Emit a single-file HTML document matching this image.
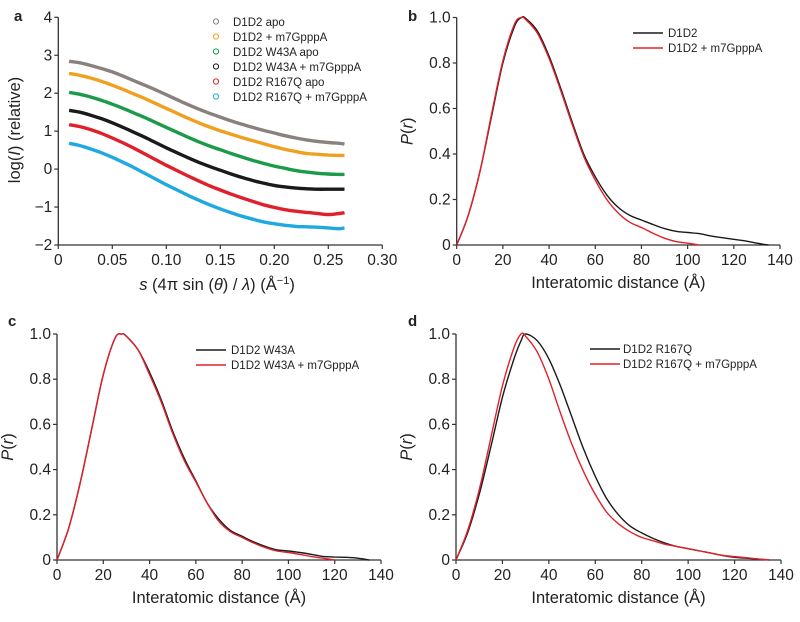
<!DOCTYPE html>
<html><head><meta charset="utf-8"><style>
body{margin:0;background:#fff;}
svg{display:block;font-family:"Liberation Sans",Arial,sans-serif;}
</style></head><body>
<svg id="fig" width="800" height="622" viewBox="0 0 800 622"></svg>
<script>
// Panel a data
const sVals=[0.01,0.02,0.03,0.04,0.05,0.06,0.07,0.08,0.09,0.10,0.11,0.12,0.13,0.14,0.15,0.16,0.17,0.18,0.19,0.20,0.21,0.22,0.23,0.24,0.25,0.26,0.265];
const greyApo=[2.84,2.80,2.73,2.65,2.56,2.45,2.33,2.21,2.09,1.96,1.83,1.70,1.58,1.47,1.37,1.27,1.18,1.10,1.02,0.95,0.88,0.82,0.77,0.73,0.70,0.68,0.66];
const orangeLig=[2.52,2.47,2.40,2.31,2.21,2.10,1.98,1.86,1.73,1.60,1.47,1.34,1.22,1.11,1.01,0.92,0.83,0.75,0.67,0.59,0.52,0.46,0.41,0.39,0.37,0.36,0.36];
const greenW43=[2.02,1.97,1.90,1.81,1.71,1.60,1.48,1.36,1.23,1.10,0.97,0.84,0.72,0.61,0.51,0.41,0.32,0.23,0.15,0.08,0.02,-0.04,-0.08,-0.11,-0.13,-0.14,-0.14];
const blackW43=[1.55,1.50,1.42,1.33,1.22,1.10,0.97,0.84,0.70,0.56,0.43,0.30,0.18,0.07,-0.03,-0.13,-0.22,-0.30,-0.37,-0.43,-0.47,-0.50,-0.52,-0.53,-0.53,-0.53,-0.53];
const redR167=[1.17,1.12,1.04,0.94,0.82,0.69,0.55,0.40,0.25,0.10,-0.04,-0.18,-0.31,-0.44,-0.55,-0.66,-0.76,-0.85,-0.94,-1.01,-1.07,-1.11,-1.14,-1.17,-1.20,-1.17,-1.15];
const blueR167=[0.68,0.62,0.53,0.43,0.31,0.18,0.04,-0.11,-0.26,-0.41,-0.55,-0.69,-0.82,-0.94,-1.05,-1.15,-1.24,-1.32,-1.39,-1.44,-1.48,-1.51,-1.52,-1.53,-1.55,-1.57,-1.55];
const seriesANames=["D1D2 apo","D1D2 + m7GpppA","D1D2 W43A apo","D1D2 W43A + m7GpppA","D1D2 R167Q apo","D1D2 R167Q + m7GpppA"];
const seriesAColors=["#8a817e","#f0a020","#1a9a4a","#1a1a1a","#e0202a","#20a8e0"];
const seriesAData=[greyApo,orangeLig,greenW43,blackW43,redR167,blueR167];
const aYTicks=[-2,-1,0,1,2,3,4];
const aXTicks=[0,0.05,0.10,0.15,0.20,0.25,0.30];
const aXLabels=["0","0.05","0.10","0.15","0.20","0.25","0.30"];
// P(r) data
const rVals=[0,5,10,15,20,25,28,30,35,40,45,50,55,60,65,70,75,80,85,90,95,100,105,110,115,120,125,130,135];
const bBlack=[0,0.13,0.32,0.56,0.80,0.96,1.0,0.995,0.94,0.83,0.69,0.54,0.40,0.30,0.22,0.165,0.13,0.11,0.09,0.072,0.06,0.055,0.05,0.04,0.032,0.025,0.018,0.008,0];
const bRed=[0,0.13,0.32,0.57,0.81,0.97,1.0,0.99,0.93,0.82,0.68,0.53,0.39,0.285,0.20,0.14,0.10,0.077,0.052,0.03,0.015,0.008,0,null,null,null,null,null,null];
const cBlack=[0,0.14,0.34,0.58,0.82,0.98,1.0,0.99,0.93,0.83,0.71,0.57,0.45,0.35,0.25,0.18,0.13,0.105,0.08,0.06,0.045,0.04,0.033,0.025,0.016,0.013,0.012,0.008,0];
const cRed=[0,0.14,0.34,0.58,0.82,0.98,1.0,0.99,0.93,0.82,0.70,0.56,0.44,0.345,0.25,0.17,0.125,0.10,0.075,0.055,0.04,0.033,0.025,0.015,0.008,0,null,null,null];
const dBlack=[0,0.12,0.29,0.50,0.72,0.89,0.97,1.0,0.97,0.89,0.77,0.63,0.49,0.37,0.27,0.20,0.15,0.12,0.095,0.075,0.06,0.05,0.04,0.03,0.02,0.012,0.008,0.004,0];
const dRed=[0,0.13,0.31,0.54,0.77,0.94,1.0,0.99,0.92,0.80,0.65,0.51,0.39,0.29,0.21,0.16,0.125,0.10,0.085,0.07,0.06,0.05,0.04,0.03,0.02,0.015,0.01,0.005,0];
const prYTicks=[0,0.2,0.4,0.6,0.8,1.0];
const prYLabels=["0","0.2","0.4","0.6","0.8","1.0"];
const prXTicks=[0,20,40,60,80,100,120,140];

const NS="http://www.w3.org/2000/svg";
const svg=document.getElementById('fig');
function mk(tag,attrs,parent){const e=document.createElementNS(NS,tag);for(const k in attrs)e.setAttribute(k,attrs[k]);(parent||svg).appendChild(e);return e;}
function txt(str,x,y,size,anchor,parent,extra){const t=mk('text',Object.assign({x:x,y:y,'font-size':size,'text-anchor':anchor||'start',fill:'#222'},extra||{}),parent);t.textContent=str;return t;}

function axes(g,px0,px1,py0,py1,xmin,xmax,ymin,ymax,xt,xl,yt,yl){
  const sx=v=>px0+(v-xmin)/(xmax-xmin)*(px1-px0);
  const sy=v=>py0-(v-ymin)/(ymax-ymin)*(py0-py1);
  const ax=mk('g',{},g);
  
  
  mk('line',{x1:px0,y1:py0,x2:px1,y2:py0,stroke:'#333','stroke-width':1.3},ax);
  mk('line',{x1:px0,y1:py0,x2:px0,y2:py1,stroke:'#333','stroke-width':1.3},ax);
  xt.forEach((v,i)=>{const x=sx(v);mk('line',{x1:x,y1:py0,x2:x,y2:py0+4,stroke:'#333','stroke-width':1.2},ax);
    const t=txt(xl[i],x,py0+20,15.5,'middle',ax);});
  yt.forEach((v,i)=>{const y=sy(v);mk('line',{x1:px0-4,y1:y,x2:px0,y2:y,stroke:'#333','stroke-width':1.2},ax);
    const t=txt(yl[i],px0-6,y+5,15.5,'end',ax);});
  return {sx,sy};
}
function line(g,sc,xs,ys,color,name,w){
  const pts=[];xs.forEach((x,i)=>{if(ys[i]===null||ys[i]===undefined)return;pts.push([sc.sx(x),sc.sy(ys[i])]);});
  let d='M'+pts[0][0].toFixed(1)+','+pts[0][1].toFixed(1);
  for(let i=0;i<pts.length-1;i++){
    const p0=pts[Math.max(0,i-1)],p1=pts[i],p2=pts[i+1],p3=pts[Math.min(pts.length-1,i+2)];
    const c1=[p1[0]+(p2[0]-p0[0])/6,p1[1]+(p2[1]-p0[1])/6];
    const c2=[p2[0]-(p3[0]-p1[0])/6,p2[1]-(p3[1]-p1[1])/6];
    d+='C'+c1[0].toFixed(1)+','+c1[1].toFixed(1)+' '+c2[0].toFixed(1)+','+c2[1].toFixed(1)+' '+p2[0].toFixed(1)+','+p2[1].toFixed(1);
  }
  const p=mk('path',{d:d,fill:'none',stroke:color,'stroke-width':w||1.4,'stroke-linejoin':'round'},g);
  
  
}

// Panel a
const ga=mk('g',{});


const la=txt('a',14,21,15,'start',ga,{'font-weight':'bold'});


const scA=axes(ga,58.3,382.3,245,17.3,0,0.30,-2,4,aXTicks,aXLabels,aYTicks,aYTicks.map(v=>v<0?'\u2212'+(-v):String(v)));
seriesAData.forEach((arr,i)=>{line(ga,scA,sVals,arr,seriesAColors[i],'scattering-curve-'+i,3.4);});
seriesANames.forEach((n,i)=>{const y=22+15*i;
  const c=mk('circle',{cx:216,cy:y-0.5,r:2.6,fill:'none',stroke:seriesAColors[i],'stroke-width':1},ga);
  
  
  const t=txt(n,233,y+4,11.5,'start',ga);
  
  });
const axa=txt('',217,290,16.5,'middle',ga);
axa.innerHTML='<tspan font-style="italic">s</tspan> (4\u03c0 sin (<tspan font-style="italic">\u03b8</tspan>) / <tspan font-style="italic">\u03bb</tspan>) (\u00c5<tspan font-size="11" dy="-6">\u22121</tspan><tspan dy="6">)</tspan>';


const aya=txt('',0,0,16.5,'middle',ga,{transform:'translate(20,130) rotate(-90)'});
aya.innerHTML='log(<tspan font-style="italic">I</tspan>) (relative)';



function prPanel(name,label,lx,ly,px0,px1,py0,py1,black,red,legB,legR,legLx,legTx,legY){
  const g=mk('g',{});
  
  
  const l=txt(label,lx,ly,15,'start',g,{'font-weight':'bold'});
  
  
  const sc=axes(g,px0,px1,py0,py1,0,140,0,1,prXTicks,prXTicks.map(String),prYTicks,prYLabels);
  line(g,sc,rVals,black,'#1a1a1a','pr-curve-black',1.4);
  line(g,sc,rVals,red,'#e0202a','pr-curve-red',1.4);
  [[legB,'#1a1a1a'],[legR,'#e0202a']].forEach((e,i)=>{const y=legY+15*i;
    const ln=mk('line',{x1:legLx,y1:y,x2:legLx+30,y2:y,stroke:e[1],'stroke-width':1.4},g);
    
    
    const t=txt(e[0],legTx,y+4,11.5,'start',g);
    
    });
  const xt=txt('Interatomic distance (\u00c5)',(px0+px1)/2+0,py0+43,16.5,'middle',g);
  
  
  const yt=txt('',0,0,16.5,'middle',g,{transform:'translate('+(px0-44)+','+((py0+py1)/2)+') rotate(-90)'});
  yt.innerHTML='<tspan font-style="italic">P</tspan>(<tspan font-style="italic">r</tspan>)';
  
  
}
prPanel('panel-b','b',408,21,456.7,780,245,17.5,bBlack,bRed,'D1D2','D1D2 + m7GpppA',633,668,33);
prPanel('panel-c','c',8,326,57,381,560,334,cBlack,cRed,'D1D2 W43A','D1D2 W43A + m7GpppA',196,231,350);
prPanel('panel-d','d',408,326,456,781,560,334,dBlack,dRed,'D1D2 R167Q','D1D2 R167Q + m7GpppA',590,623,349);
</script>
</body></html>
